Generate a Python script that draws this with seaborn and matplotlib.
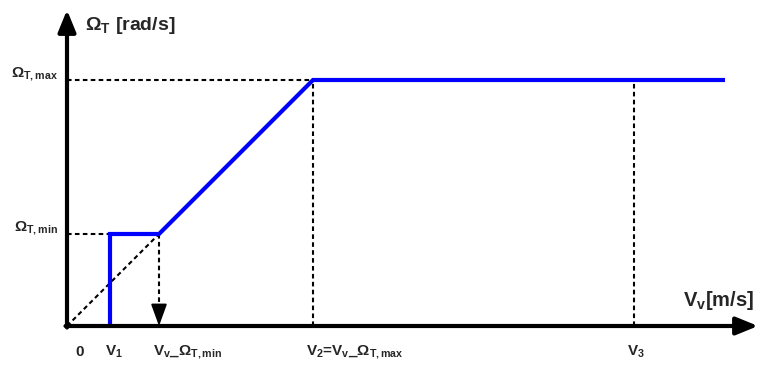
import matplotlib
matplotlib.use("Agg")
import matplotlib.pyplot as plt
import seaborn as sns
import pandas as pd

# Operating points of the speed curve (wind speed -> rotor speed)
v_points = [43, 43, 92, 246, 658]
omega_points = [0, 92, 92, 246, 246]
v_min = 92       # V_v at Omega_T,min
v2 = 246         # V_2 = V_v at Omega_T,max
v3 = 567
omega_min = 92
omega_max = 246
x_max = 691
y_max = 316

x_tick_pos = [8, 38, 86, 239, 560]
x_tick_labels = [r"$\mathbf{0}$", r"$\mathbf{V_1}$", r"$\mathbf{V_{v}\_\Omega_{T,min}}$",
                 r"$\mathbf{V_2}$=$\mathbf{V_{v}\_\Omega_{T,max}}$", r"$\mathbf{V_3}$"]

sns.set_theme(style="white")
plt.rcParams["mathtext.fontset"] = "custom"
plt.rcParams["mathtext.rm"] = "Liberation Sans"
plt.rcParams["mathtext.bf"] = "Liberation Sans:bold"
plt.rcParams["mathtext.it"] = "Liberation Sans:bold"
plt.rcParams["font.family"] = ["Liberation Sans", "DejaVu Sans"]

fig = plt.figure(figsize=(7.6, 3.65), dpi=100)
W, H = 760, 365
ax = fig.add_axes([67 / W, (H - 326) / H, x_max / W, y_max / H])
ax.set_xlim(0, x_max)
ax.set_ylim(0, y_max)
ax.axis("off")

dash = dict(color="black", lw=1.5, ls=(0, (2.2, 1.6)))
ax.plot([0, v_min], [0, omega_min], **dash)
ax.plot([0, v_points[0]], [omega_min, omega_min], **dash)
ax.plot([0, v2], [omega_max, omega_max], **dash)
ax.plot([v2, v2], [0, omega_max], **dash)
ax.plot([v3, v3], [0, omega_max], **dash)
ax.plot([v_min, v_min], [omega_min, 14], **dash)
ax.annotate("", xy=(v_min, 0), xytext=(v_min, 16),
            arrowprops=dict(arrowstyle="-|>,head_width=0.4,head_length=1.1",
                            color="black", lw=1.5, shrinkA=0, shrinkB=0))

df = pd.DataFrame({"v": v_points, "omega": omega_points})
sns.lineplot(data=df, x="v", y="omega", sort=False, estimator=None,
             color="#0000ff", lw=3, ax=ax,
             solid_joinstyle="miter", solid_capstyle="butt")

# axes with arrowheads
arrow = dict(arrowstyle="-|>,head_width=0.45,head_length=1.1", color="black", lw=3,
             shrinkA=0, shrinkB=0)
ax.annotate("", xy=(0, y_max), xytext=(0, -1.5), arrowprops=arrow,
            annotation_clip=False)
ax.annotate("", xy=(x_max, 0), xytext=(-1.5, 0), arrowprops=arrow,
            annotation_clip=False)

ax.text(18, 300, r"$\mathbf{\Omega_T}$ [rad/s]", fontsize=14, fontweight="bold",
        va="center", ha="left")
ax.text(616, 26, r"$\mathbf{V_v}$[m/s]", fontsize=14.5, fontweight="bold",
        va="center", ha="left")

for xp, lab in zip(x_tick_pos, x_tick_labels):
    ax.text(xp, -26, lab, fontsize=11, fontweight="bold", ha="left",
            va="center", clip_on=False)

ax.text(-9, omega_max + 6, r"$\mathbf{\Omega_{T,max}}$", fontsize=11,
        ha="right", va="center")
ax.text(-9, omega_min + 6, r"$\mathbf{\Omega_{T,min}}$", fontsize=11,
        ha="right", va="center")

fig.savefig("out.png", dpi=100)
